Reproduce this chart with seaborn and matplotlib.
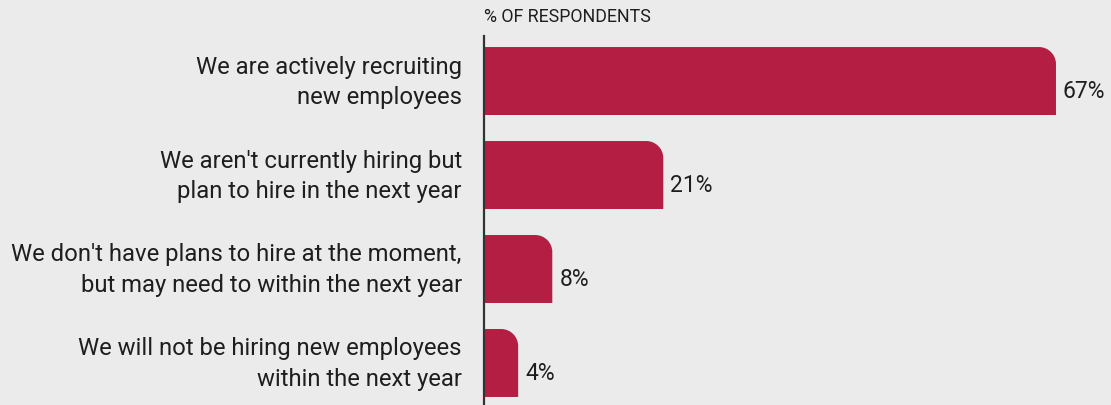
import matplotlib
matplotlib.use("Agg")
import matplotlib.pyplot as plt
from matplotlib.path import Path
from matplotlib.patches import PathPatch
from matplotlib.transforms import ScaledTranslation
import seaborn as sns
import pandas as pd

categories = [
    "We are actively recruiting\nnew employees",
    "We aren't currently hiring but\nplan to hire in the next year",
    "We don't have plans to hire at the moment,\nbut may need to within the next year",
    "We will not be hiring new employees\nwithin the next year",
]
values = [67, 21, 8, 4]
title = "% OF RESPONDENTS"

BG = "#ebebeb"
BAR = "#b51e43"
INK = "#1e1e1e"

sns.set_style("white")
plt.rcParams["font.family"] = ["Roboto", "DejaVu Sans"]

df = pd.DataFrame({"cat": categories, "val": values})

W, H, DPI = 1111, 406, 100
fig = plt.figure(figsize=(W / DPI, H / DPI), dpi=DPI, facecolor=BG)
ax = fig.add_axes([484 / W, 0, (W - 484) / W, 369 / H])
ax.set_facecolor(BG)

sns.barplot(data=df, x="val", y="cat", color=BAR, width=0.723,
            saturation=1, ax=ax, orient="h")

px_per_unit = 8.537
ax.set_xlim(0, (W - 484) / px_per_unit)
ax.set_ylim(3.447, -0.479)

# replace bars with versions that have a rounded top-right corner
rx = 17 / px_per_unit
ry = 17 / 94
k = 0.5523
for p in list(ax.patches):
    x0, y0 = p.get_x(), p.get_y()
    w, h = p.get_width(), p.get_height()
    top = y0  # inverted y: smaller value is visually on top
    bot = y0 + h
    x1 = x0 + w
    r_x = min(rx, w)
    verts = [
        (x0, bot), (x1, bot), (x1, top + ry),
        (x1, top + ry - k * ry), (x1 - r_x + k * r_x, top), (x1 - r_x, top),
        (x0, top), (x0, bot),
    ]
    codes = [Path.MOVETO, Path.LINETO, Path.LINETO,
             Path.CURVE4, Path.CURVE4, Path.CURVE4,
             Path.LINETO, Path.CLOSEPOLY]
    p.remove()
    ax.add_patch(PathPatch(Path(verts, codes), facecolor=BAR,
                           edgecolor="none", zorder=2))

for i, v in enumerate(values):
    ax.text(v + 7 / px_per_unit, i + 0.1, f"{v}%", ha="left", va="center",
            fontsize=16.5, color=INK, clip_on=False)

ax.set_xlabel("")
ax.set_ylabel("")
ax.set_xticks([])
ax.tick_params(axis="y", length=0, pad=16, labelsize=17.2, labelcolor=INK)
lift = ScaledTranslation(0, 6 / DPI, fig.dpi_scale_trans)
for lab in ax.get_yticklabels():
    lab.set_multialignment("right")
    lab.set_linespacing(1.42)
    lab.set_transform(lab.get_transform() + lift)

for s in ["top", "right", "bottom"]:
    ax.spines[s].set_visible(False)
ax.spines["left"].set_color("#333333")
ax.spines["left"].set_linewidth(1.6)

fig.text(484 / W, 1 - 17 / H, title, ha="left", va="center",
         fontsize=12.8, color=INK)

fig.savefig("out.png", dpi=DPI, facecolor=BG)
